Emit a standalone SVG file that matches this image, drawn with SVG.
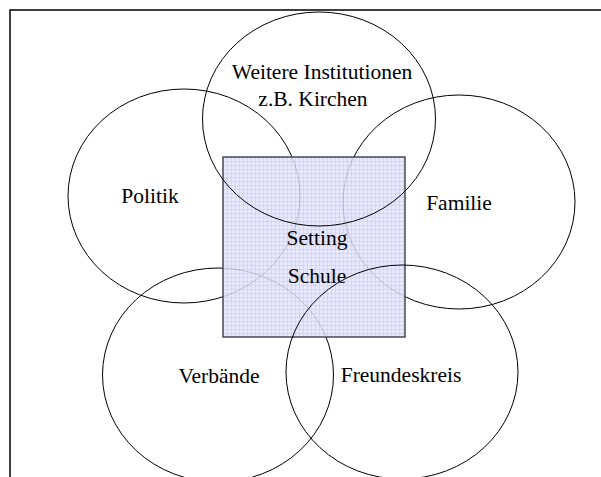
<svg xmlns="http://www.w3.org/2000/svg" width="601" height="477" viewBox="0 0 601 477">
<style>
.c{fill:none;stroke:#000;stroke-width:1}
.t{font-family:"Liberation Serif","Times New Roman",serif;font-size:21.5px;fill:#000;text-anchor:middle}
</style>
<defs>
<pattern id="grid" x="223" y="157" width="4" height="4" patternUnits="userSpaceOnUse">
<rect width="4" height="4" fill="#e4e4ff"/>
<path d="M0 0.5H4M0.5 0V4" stroke="#c9c9f5" stroke-width="0.8"/>
</pattern>
</defs>
<rect width="601" height="477" fill="#fff"/>
<g id="frame"><path d="M10 477V10H601" fill="none" stroke="#000" stroke-width="1.5"/></g>
<g id="politik"><ellipse class="c" cx="184" cy="196" rx="116" ry="107"/><text class="t" x="150" y="203">Politik</text></g>
<g id="familie"><ellipse class="c" cx="459" cy="202" rx="116" ry="107"/><text class="t" x="459" y="210">Familie</text></g>
<g id="verbaende"><ellipse class="c" cx="218" cy="375" rx="115.5" ry="107"/><text class="t" x="219" y="383">Verbände</text></g>
<g id="setting"><rect x="223" y="157" width="182" height="180" fill="url(#grid)" fill-opacity="0.85" stroke="#4a4a5a" stroke-width="1.5"/><text class="t" x="317" y="245">Setting</text><text class="t" x="317" y="283">Schule</text></g>
<g id="institutionen"><ellipse class="c" cx="319" cy="119" rx="116.5" ry="107"/><text class="t" x="322" y="79">Weitere Institutionen</text><text class="t" x="313" y="106">z.B. Kirchen</text></g>
<g id="freundeskreis"><ellipse class="c" cx="402" cy="372" rx="116" ry="107"/><text class="t" x="401" y="382">Freundeskreis</text></g>
<g id="connectors"/>
</svg>
